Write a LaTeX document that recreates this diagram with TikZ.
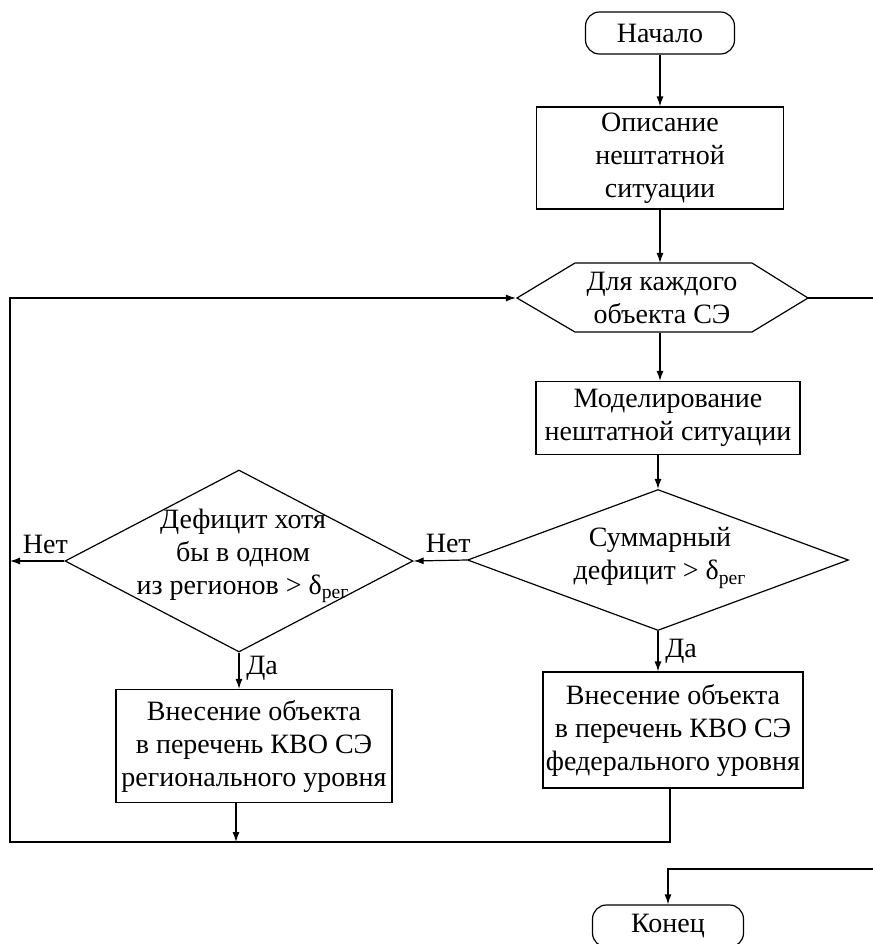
\documentclass[tikz,border=0pt]{standalone}
\usepackage{fontspec}
\setmainfont{Liberation Serif}
\usetikzlibrary{shapes.geometric,arrows.meta}

\tikzset{
  block/.style={draw, rectangle, align=center, inner sep=0pt},
  term/.style={draw, rectangle, rounded corners=7pt, inner sep=0pt},
  cond/.style={draw, diamond, inner sep=0pt},
  arr/.style={-{Latex[length=5pt,width=3.5pt]}},
}

\begin{document}
\begin{tikzpicture}[x=0.5pt,y=-0.5pt,line width=0.6pt,font=\fontsize{14}{16.5}\selectfont]
\useasboundingbox (0,0) rectangle (873,944);
\clip (0,0) rectangle (873,944);

% Blocks
\node[term, minimum width=74.5pt, minimum height=21pt] (start) at (660,33) {Начало};
\node[block, minimum width=123.5pt, minimum height=51pt] (descr) at (660,158) {Описание\\нештатной\\ситуации};
\node[minimum width=145.5pt, minimum height=34.5pt, inner sep=0pt, align=center] (loop) at (662,298) {Для каждого\\объекта СЭ};
\draw (517,298) -- (575,263) -- (752,263) -- (808,298) -- (752,332) -- (575,332) -- cycle;
\node[block, minimum width=132pt, minimum height=36.5pt] (model) at (668,418) {Моделирование\\нештатной ситуации};

% Decisions
\node[cond, minimum width=190.5pt, minimum height=70.5pt] (sum) at (658,560) {};
\node[align=center] (sumtxt) at (660,558) {Суммарный\\дефицит > δ\textsubscript{рег}};
\node[cond, minimum width=174pt, minimum height=91pt] (reg) at (239,561) {};
\node[align=center] (regtxt) at (243,556) {Дефицит хотя\\бы в одном\\из регионов > δ\textsubscript{рег}};

% Results
\node[block, minimum width=138pt, minimum height=56.5pt] (regbox) at (254,746) {Внесение объекта\\в перечень КВО СЭ\\регионального уровня};
\node[block, minimum width=130pt, minimum height=58pt] (fed) at (673,730) {Внесение объекта\\в перечень КВО СЭ\\федерального уровня};
\node[term, minimum width=75.5pt, minimum height=21pt] (end) at (668,926) {Конец};
\coordinate (back) at (10,842);

% Connectors
\draw[arr] (start) -- (descr);
\draw[arr] (descr.south) -- (descr.south |- loop.north);
\draw[arr] (descr.south |- loop.south) -- (descr.south |- model.north);
\draw[arr] (model.south -| sum.north) -- (sum.north);
\draw[arr] (sum.west) -- node[above, pos=0.35] {Нет} (reg.east);
\draw[arr] (sum.south) -- node[right, pos=0.5] {Да} (sum.south |- fed.north);
\draw[arr] (reg.west) -- node[above, pos=0.35] {Нет} (reg.west -| back);
\draw[arr] (reg.south) -- node[right, pos=0.42] {Да} (reg.south |- regbox.north);
\draw[arr] ([xshift=-9pt]regbox.south) -- ([xshift=-9pt]regbox.south |- back);
\draw[arr] ([xshift=-1.5pt]fed.south) |- (back) |- (loop.west);
\draw[arr] (loop.east) -| (890,869) -| (end.north);

\end{tikzpicture}
\end{document}
